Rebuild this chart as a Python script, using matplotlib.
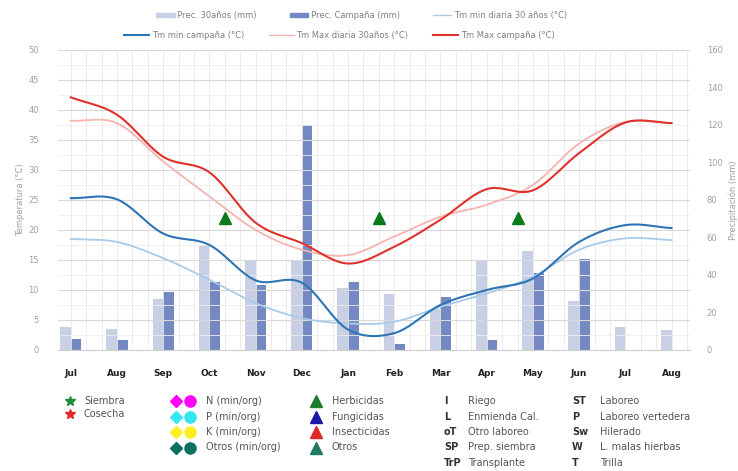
import numpy as np
import matplotlib
matplotlib.use("Agg")
import matplotlib.pyplot as plt
from matplotlib.lines import Line2D
from matplotlib.patches import Patch

# Months (campaign Jul -> Aug of next year)
months = ['Jul', 'Aug', 'Sep', 'Oct', 'Nov', 'Dec', 'Jan', 'Feb', 'Mar', 'Apr', 'May', 'Jun', 'Jul', 'Aug']

# Precipitation (mm), right axis
prec_30 = [12, 11, 27, 56, 48, 48, 33, 30, 22, 48, 53, 26, 12, 10.5]
prec_camp = [6, 5.5, 31, 36.5, 34.5, 120, 36.5, 3, 28.5, 5.5, 41, 48.5, 0, 0]

# Temperatures (degC), left axis
tmin_30 = [18.5, 18.0, 15.3, 11.7, 7.8, 5.3, 4.4, 4.7, 7.2, 9.4, 12.2, 16.7, 18.6, 18.3]
tmin_camp = [25.3, 25.1, 19.4, 17.5, 11.6, 11.2, 3.4, 2.8, 7.5, 10.0, 11.9, 18.0, 20.8, 20.3]
tmax_30 = [38.2, 37.8, 31.4, 25.6, 20.0, 16.7, 15.8, 18.9, 22.2, 24.2, 27.5, 34.4, 38.0, 37.8]
tmax_camp = [42.1, 39.2, 32.2, 29.6, 21.2, 17.8, 14.4, 17.2, 21.7, 26.8, 26.6, 32.8, 37.9, 37.8]

# Herbicide applications (month position, temperature level)
herb_x = [3.34, 6.68, 9.67]
herb_y = [22, 22, 22]


def smooth(x, y, n=24):
    # Catmull-Rom curve through the monthly values (like Excel smoothed lines)
    x = np.asarray(x, float)
    y = np.asarray(y, float)
    px = np.concatenate([[2 * x[0] - x[1]], x, [2 * x[-1] - x[-2]]])
    py = np.concatenate([[2 * y[0] - y[1]], y, [2 * y[-1] - y[-2]]])
    t = np.linspace(0, 1, n, endpoint=False)
    xs, ys = [], []
    for i in range(1, len(px) - 2):
        for p, out in ((px, xs), (py, ys)):
            p0, p1, p2, p3 = p[i - 1], p[i], p[i + 1], p[i + 2]
            out.extend(0.5 * (2 * p1 + (-p0 + p2) * t
                              + (2 * p0 - 5 * p1 + 4 * p2 - p3) * t ** 2
                              + (-p0 + 3 * p1 - 3 * p2 + p3) * t ** 3))
    xs.append(x[-1])
    ys.append(y[-1])
    return np.array(xs), np.array(ys)


c_bar30 = '#c9d0e6'
c_barcamp = '#7489c2'
c_tmin30 = '#a9cbe8'
c_tmincamp = '#2e75b6'
c_tmax30 = '#f6b3b0'
c_tmaxcamp = '#e0322c'
c_txt = '#a0a0a0'

fig = plt.figure(figsize=(7.38, 4.71), dpi=100)
ax = fig.add_axes([0.079, 0.257, 0.856, 0.637])
ax2 = ax.twinx()

x = np.arange(len(months))

# grid
for v in np.arange(-0.0, 13.5, 1 / 3):
    ax.axvline(v, color='#e8e8e8', lw=0.6, zorder=0)
ax.set_yticks(np.arange(0, 51, 5))
ax.set_yticks(np.arange(0, 51, 2.5), minor=True)
ax.grid(axis='y', which='major', color='#d9d9d9', lw=0.8)
ax.grid(axis='y', which='minor', color='#eeeeee', lw=0.6)
ax.set_axisbelow(True)

# precipitation bars
w = 0.23
ax2.bar(x - w / 2, prec_30, width=w, color=c_bar30, zorder=1)
ax2.bar(x + w / 2, prec_camp, width=w, color=c_barcamp, zorder=1)
ax2.set_ylim(0, 160)
ax2.set_yticks(np.arange(0, 161, 20))

# temperature lines on top of the bars
ax.set_zorder(ax2.get_zorder() + 1)
ax.patch.set_visible(False)
ax.plot(*smooth(x, tmin_30), color=c_tmin30, lw=1.3)
ax.plot(*smooth(x, tmax_30), color=c_tmax30, lw=1.3)
ax.plot(*smooth(x, tmin_camp), color=c_tmincamp, lw=1.5)
ax.plot(*smooth(x, tmax_camp), color=c_tmaxcamp, lw=1.5)
ax.plot(herb_x, herb_y, linestyle='none', marker='^', ms=8, color='#0a7a1a')

ax.set_ylim(0, 50)
ax.set_xlim(-0.27, 13.4)
ax.set_xticks(x)
ax.set_xticklabels(months, fontsize=6.5, fontweight='bold', color='#222222')
ax.tick_params(axis='x', length=0, pad=14)
ax.tick_params(axis='y', which='both', length=0, labelsize=6, labelcolor=c_txt, pad=14)
ax2.tick_params(axis='y', which='both', length=0, labelsize=6, labelcolor=c_txt, pad=12)
for a in (ax, ax2):
    for s in a.spines.values():
        s.set_visible(False)
ax.spines['bottom'].set_visible(True)
ax.spines['bottom'].set_color('#d0d0d0')
ax.set_ylabel('Temperatura (°C)', fontsize=6, color=c_txt, labelpad=2)
ax2.set_ylabel('Precipitación (mm)', fontsize=6, color=c_txt, labelpad=4)

# top legend, two rows
h1 = [Patch(color=c_bar30), Patch(color=c_barcamp), Line2D([], [], color=c_tmin30, lw=1)]
l1 = ['Prec. 30años (mm)', 'Prec. Campaña (mm)', 'Tm min diaria 30 años (°C)']
h2 = [Line2D([], [], color=c_tmincamp, lw=1.5), Line2D([], [], color=c_tmax30, lw=1),
      Line2D([], [], color=c_tmaxcamp, lw=1.5)]
l2 = ['Tm min campaña (°C)', 'Tm Max diaria 30años (°C)', 'Tm Max campaña (°C)']
leg1 = fig.legend(h1, l1, ncol=3, loc='center', bbox_to_anchor=(0.49, 0.967), frameon=False,
                  fontsize=6, labelcolor='#808080', handlelength=2.2, handleheight=0.5,
                  columnspacing=4, handletextpad=0.3)
leg2 = fig.legend(h2, l2, ncol=3, loc='center', bbox_to_anchor=(0.46, 0.925), frameon=False,
                  fontsize=6, labelcolor='#808080', handlelength=3, columnspacing=3,
                  handletextpad=0.3)

# bottom key, drawn in a full-figure overlay in pixel units
k = fig.add_axes([0, 0, 1, 1])
k.set_xlim(0, 738)
k.set_ylim(471, 0)
k.axis('off')
kc = '#555555'
fs = 7

k.plot(70, 401, marker='*', color='#1e8c3a', ms=7)
k.text(84, 401, 'Siembra', fontsize=fs, color=kc, va='center')
k.plot(70, 414, marker='*', color='#e02a2a', ms=7)
k.text(84, 414, 'Cosecha', fontsize=fs, color=kc, va='center')

nut = [('N (min/org)', '#ff00ff'), ('P (min/org)', '#33e6f0'),
       ('K (min/org)', '#ffee22'), ('Otros (min/org)', '#0b7060')]
for i, (lab, c) in enumerate(nut):
    yy = 401 + i * 15.5
    k.plot(176, yy, marker='D', color=c, ms=6.5)
    k.plot(190, yy, marker='o', color=c, ms=8)
    k.text(206, yy, lab, fontsize=fs, color=kc, va='center')

trt = [('Herbicidas', '#1e7a2e'), ('Fungicidas', '#1a1aa8'),
       ('Insecticidas', '#e02a2a'), ('Otros', '#1e7a60')]
for i, (lab, c) in enumerate(trt):
    yy = 401 + i * 15.5
    k.plot(316, yy, marker='^', color=c, ms=8)
    k.text(332, yy, lab, fontsize=fs, color=kc, va='center')

codes1 = [('I', 'Riego'), ('L', 'Enmienda Cal.'), ('oT', 'Otro laboreo'),
          ('SP', 'Prep. siembra'), ('TrP', 'Transplante')]
codes2 = [('ST', 'Laboreo'), ('P', 'Laboreo vertedera'), ('Sw', 'Hilerado'),
          ('W', 'L. malas hierbas'), ('T', 'Trilla')]
for i, ((c1, t1), (c2, t2)) in enumerate(zip(codes1, codes2)):
    yy = 401 + i * 15.5
    k.text(444, yy, c1, fontsize=fs, color='#333333', fontweight='bold', va='center')
    k.text(468, yy, t1, fontsize=fs, color=kc, va='center')
    k.text(572, yy, c2, fontsize=fs, color='#333333', fontweight='bold', va='center')
    k.text(600, yy, t2, fontsize=fs, color=kc, va='center')

fig.savefig('out.png', dpi=100)
